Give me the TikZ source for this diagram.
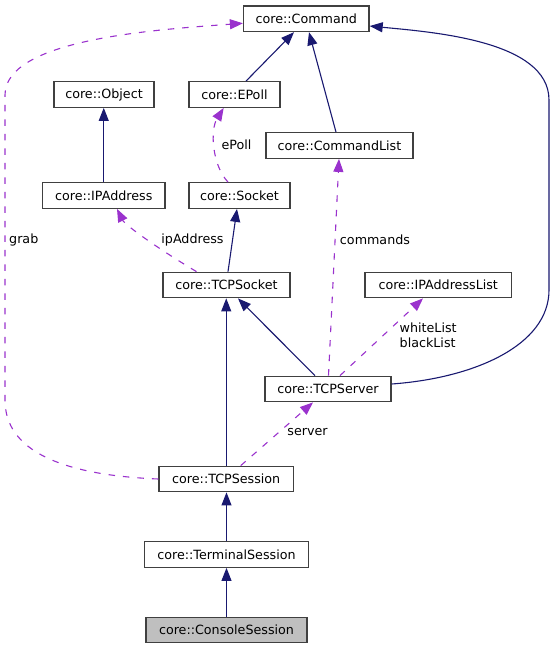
\documentclass[tikz,border=0pt]{standalone}
\usepackage{fontspec}
\setmainfont{DejaVu Sans}
\usetikzlibrary{arrows.meta,calc}
\definecolor{boxgray}{HTML}{404040}
\definecolor{inhblue}{HTML}{191970}
\definecolor{usepurple}{HTML}{9A32CD}
\definecolor{consolegray}{HTML}{BFBFBF}
\begin{document}
\begin{tikzpicture}[x=1pt,y=-1pt,
  cls/.style={draw=boxgray,line width=1.3pt,fill=white,inner sep=0pt,font=\fontsize{12.7}{15}\selectfont,minimum height=25.5pt},
  inh/.style={draw=inhblue,line width=1.1pt,-{Triangle[length=13pt,width=10pt]}},
  use/.style={draw=usepurple,line width=1.1pt,dash pattern=on 6.5pt off 8pt,-{Triangle[length=13pt,width=10pt]}},
  lbl/.style={inner sep=0pt,font=\fontsize{12.7}{15}\selectfont}
]
\useasboundingbox (0,0) rectangle (555,649);
\node[cls,minimum width=125.5pt] (command) at (306.3,18.8) {core::Command};
\node[cls,minimum width=100pt] (object) at (104,94.5) {core::Object};
\node[cls,minimum width=91pt] (epoll) at (234.5,94.5) {core::EPoll};
\node[cls,minimum width=147pt] (cmdlist) at (339.5,145.5) {core::CommandList};
\node[cls,minimum width=122.5pt] (ipaddr) at (103.75,195.5) {core::IPAddress};
\node[cls,minimum width=101pt] (socket) at (239.5,195.5) {core::Socket};
\node[cls,minimum width=127pt] (tcpsocket) at (226.5,285) {core::TCPSocket};
\node[cls,minimum width=146.5pt] (iplist) at (438.25,285) {core::IPAddressList};
\node[cls,minimum width=126pt] (tcpserver) at (328,389) {core::TCPServer};
\node[cls,minimum width=134.5pt] (tcpsession) at (226.25,479) {core::TCPSession};
\node[cls,minimum width=164.3pt] (terminal) at (226.5,554.5) {core::TerminalSession};
\node[cls,minimum width=161pt,fill=consolegray] (console) at (226.5,630) {core::ConsoleSession};

\draw[inh] ([xshift=11.5pt]epoll.north) -- ([xshift=-12.3pt]command.south);
\draw[inh] ([xshift=-3.5pt]cmdlist.north) -- ([xshift=2.7pt]command.south);
\draw[inh] ([yshift=5pt]tcpserver.east) .. controls (475,378) and (549,345) .. (549,290) -- (549,100) .. controls (549,40) and (430,32) .. ([yshift=-7.2pt]command.east);
\draw[inh] (ipaddr.north) -- (ipaddr.north |- object.south);
\draw[use] ([xshift=-11.5pt]socket.north) .. controls (212,165) and (210,130) .. ([xshift=-10.8pt]epoll.south);
\draw[inh] ([xshift=1.5pt]tcpsocket.north) -- ([xshift=-2.5pt]socket.south);
\draw[use] ([xshift=-30pt]tcpsocket.north) .. controls (160,250) and (125,225) .. ([xshift=13.25pt]ipaddr.south);
\draw[inh] ([xshift=-13pt]tcpserver.north) -- ([xshift=11.5pt]tcpsocket.south);
\draw[use] ([xshift=0.5pt]tcpserver.north) -- ([xshift=-0.5pt]cmdlist.south);
\draw[use] ([xshift=12pt]tcpserver.north) -- ([xshift=-15.25pt]iplist.south);
\draw[inh] (tcpsession.north) -- (tcpsession.north |- tcpsocket.south);
\draw[use] ([xshift=14.5pt]tcpsession.north) -- ([xshift=-15pt]tcpserver.south);
\draw[use] (tcpsession.west) .. controls (60,475) and (5,450) .. (5,400) -- (5,95) .. controls (5,40) and (150,30) .. ([yshift=-4.5pt]command.west);
\draw[inh] (terminal.north) -- (terminal.north |- tcpsession.south);
\draw[inh] (console.north) -- (terminal.south);

\node[lbl,anchor=west] (lgrab) at (9,240) {grab};
\node[lbl] (lepoll) at (236.5,145) {ePoll};
\node[lbl] (lip) at (192.5,240) {ipAddress};
\node[lbl] (lcmd) at (375,240) {commands};
\node[lbl,align=left,anchor=west] (lwb) at (399.5,335.5) {whiteList\\blackList};
\node[lbl] (lserver) at (307.5,432.5) {server};
\end{tikzpicture}
\end{document}
